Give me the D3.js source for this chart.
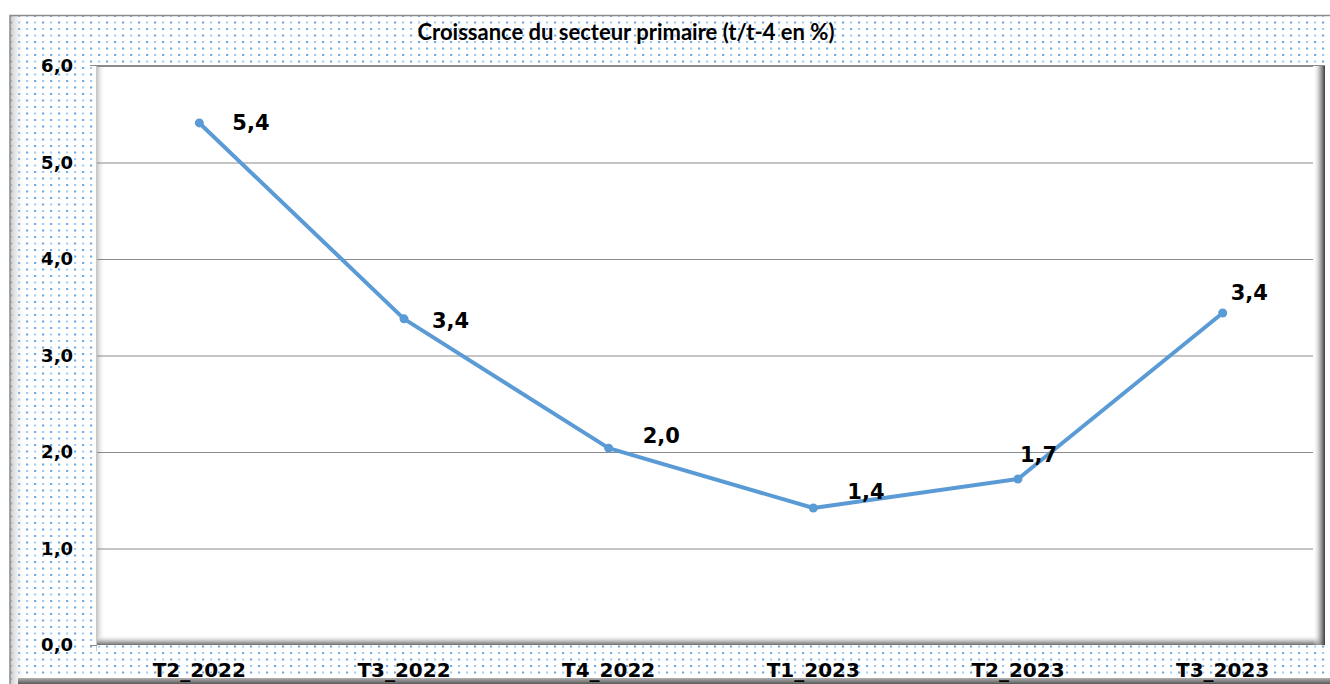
<!DOCTYPE html>
<html>
<head>
<meta charset="utf-8">
<script src="https://cdn.jsdelivr.net/npm/d3@7"></script>
<style>
  html, body { margin: 0; padding: 0; background: #fff; }
  svg { display: block; }
</style>
</head>
<body>
<div id="chart"></div>
<script>
// Data
const categories = ['T2_2022', 'T3_2022', 'T4_2022', 'T1_2023', 'T2_2023', 'T3_2023'];
const growth = [5.41, 3.38, 2.04, 1.42, 1.72, 3.44];
const yTicks = [0, 1, 2, 3, 4, 5, 6];
const title = 'Croissance du secteur primaire (t/t-4 en %)';
// label placement relative to each point (Excel-style data labels)
const labelDx = [33, 28, 34, 34, 2, 8];
const labelDy = [0, 2, -12, -16, -24, -20];

const W = 1330, H = 684;
const plot = { left: 97, top: 66, right: 1325, bottom: 645 };
const fmt = v => d3.format('.1f')(v).replace('.', ',');

const svg = d3.select('#chart').append('svg').attr('width', W).attr('height', H);
const defs = svg.append('defs');

// dotted background pattern
const pat = defs.append('pattern').attr('id', 'dots')
  .attr('patternUnits', 'userSpaceOnUse').attr('width', 16).attr('height', 13);
pat.append('rect').attr('width', 16).attr('height', 13).attr('fill', '#fff');
[[2, 2, '#6eaae6'], [10, 2, '#a3cbf2'], [2, 8.5, '#a9cff3'], [10, 8.5, '#6aa8e6']].forEach(([x, y, c]) => {
  pat.append('rect').attr('x', x).attr('y', y).attr('width', 2.2).attr('height', 2).attr('fill', c);
});

const grad = (id, x2, y2, stops) => {
  const g = defs.append('linearGradient').attr('id', id)
    .attr('x1', 0).attr('y1', 0).attr('x2', x2).attr('y2', y2);
  stops.forEach(([o, c, op]) => g.append('stop').attr('offset', o).attr('stop-color', c).attr('stop-opacity', op));
};
grad('wallL', 1, 0, [[0, '#9a9a9a', 0.55], [1, '#ffffff', 0]]);
grad('floorB', 0, 1, [[0, '#b0b0b0', 1], [1, '#5a5a5a', 1]]);
grad('shadowR', 1, 0, [[0, '#ffffff', 0], [0.6, '#9a9a9a', 0.8], [1, '#3c3c3c', 1]]);
grad('shadowB', 0, 1, [[0, '#ffffff', 0], [0.6, '#b0b0b0', 0.8], [1, '#6a6a6a', 1]]);
grad('shadowL', 1, 0, [[0, '#a0a0a0', 0.6], [1, '#ffffff', 0]]);

// outer area
svg.append('rect').attr('x', 10).attr('y', 15).attr('width', W - 10).attr('height', H - 15)
  .attr('fill', 'url(#dots)');
svg.append('rect').attr('x', 10).attr('y', 15).attr('width', 16).attr('height', H - 15)
  .attr('fill', 'url(#wallL)');
svg.append('rect').attr('x', 18).attr('y', 678).attr('width', W - 18).attr('height', 6)
  .attr('fill', 'url(#floorB)');
svg.append('path').attr('d', `M10,${H}V15.5H${W}`).attr('fill', 'none')
  .attr('stroke', '#8c8c8c').attr('stroke-width', 1.5);

// plot area
svg.append('rect').attr('x', plot.left).attr('y', plot.top)
  .attr('width', plot.right - plot.left).attr('height', plot.bottom - plot.top)
  .attr('fill', '#fff');
svg.append('rect').attr('x', plot.left).attr('y', plot.top).attr('width', 8).attr('height', plot.bottom - plot.top)
  .attr('fill', 'url(#shadowL)');
svg.append('rect').attr('x', plot.left).attr('y', plot.bottom - 10).attr('width', plot.right - plot.left).attr('height', 10)
  .attr('fill', 'url(#shadowB)');
svg.append('rect').attr('x', plot.right - 12).attr('y', plot.top).attr('width', 12).attr('height', plot.bottom - plot.top)
  .attr('fill', 'url(#shadowR)');

const x = d3.scalePoint().domain(categories).range([plot.left, plot.right]).padding(0.5);
const y = d3.scaleLinear().domain([0, 6]).range([plot.bottom, plot.top]);

// gridlines
svg.append('g')
  .call(d3.axisLeft(y).tickValues(yTicks).tickSize(-(plot.right - plot.left - 12)).tickFormat(''))
  .attr('transform', `translate(${plot.left},0)`)
  .call(g => g.select('.domain').remove())
  .call(g => g.selectAll('.tick line').attr('stroke', '#8a8a8a').attr('stroke-width', 1))
  .call(g => g.selectAll('.tick').filter(d => d === 0).remove());

// plot top and left edges
svg.append('line').attr('x1', 90).attr('x2', plot.right).attr('y1', plot.top - 0.5).attr('y2', plot.top - 0.5)
  .attr('stroke', '#8a8a8a');
svg.append('line').attr('x1', plot.left - 0.5).attr('x2', plot.left - 0.5).attr('y1', plot.top).attr('y2', plot.bottom + 6)
  .attr('stroke', '#c8c8c8');
svg.append('line').attr('x1', 90).attr('x2', plot.left).attr('y1', plot.bottom + 0.5).attr('y2', plot.bottom + 0.5)
  .attr('stroke', '#8a8a8a');

// y tick labels
svg.append('g').selectAll('text').data(yTicks).join('text')
  .attr('x', 73).attr('y', d => y(d)).attr('dy', '0.35em')
  .attr('text-anchor', 'end')
  .attr('font-family', 'DejaVu Sans, Verdana, sans-serif').attr('font-weight', 'bold')
  .attr('font-size', 18).attr('fill', '#000')
  .text(fmt);

// x labels
svg.append('g').selectAll('text').data(categories).join('text')
  .attr('x', d => x(d)).attr('y', 677)
  .attr('text-anchor', 'middle')
  .attr('font-family', 'DejaVu Sans, Verdana, sans-serif').attr('font-weight', 'bold')
  .attr('font-size', 20).attr('fill', '#000')
  .text(d => d);

// title
svg.append('text').attr('x', 626).attr('y', 40).attr('text-anchor', 'middle')
  .attr('font-family', 'Lato, Open Sans, sans-serif').attr('font-weight', 'bold')
  .attr('font-size', 22).attr('fill', '#000')
  .text(title);

// line + markers
const pts = categories.map((c, i) => ({ c, v: growth[i], i }));
svg.append('path').datum(pts)
  .attr('fill', 'none').attr('stroke', '#5b9bd5').attr('stroke-width', 4)
  .attr('stroke-linejoin', 'round')
  .attr('d', d3.line().x(d => x(d.c)).y(d => y(d.v)));
svg.append('g').selectAll('circle').data(pts).join('circle')
  .attr('cx', d => x(d.c)).attr('cy', d => y(d.v)).attr('r', 4.5)
  .attr('fill', '#5b9bd5');

// data labels
svg.append('g').selectAll('text').data(pts).join('text')
  .attr('x', d => x(d.c) + labelDx[d.i]).attr('y', d => y(d.v) + labelDy[d.i]).attr('dy', '0.35em')
  .attr('font-family', 'DejaVu Sans, Verdana, sans-serif').attr('font-weight', 'bold')
  .attr('font-size', 21).attr('fill', '#000')
  .text(d => fmt(d.v));
</script>
</body>
</html>
